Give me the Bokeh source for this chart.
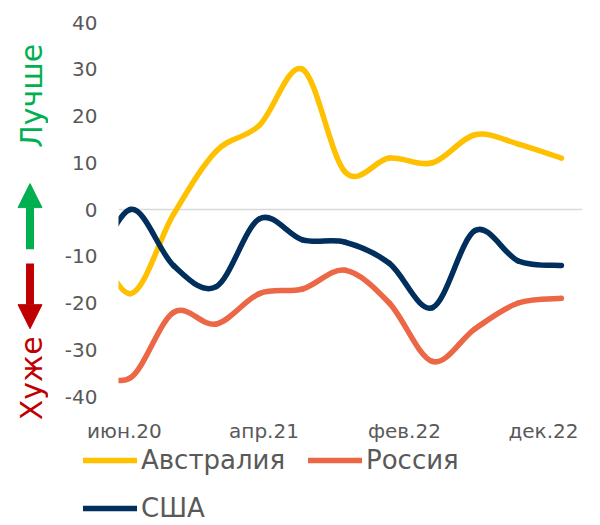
import pandas as pd
from bokeh.plotting import figure
from bokeh.models import (Range1d, FixedTicker, Legend, LegendItem, Arrow,
                          NormalHead, Label, ColumnDataSource)
from bokeh.layouts import row, column
from bokeh.embed import file_html
from bokeh.resources import INLINE

# ---------------- data ----------------
dates = ["2020-03-12", "2020-06-14", "2020-09-16", "2020-12-18", "2021-03-22",
         "2021-06-24", "2021-09-25", "2021-12-30", "2022-04-03", "2022-07-05",
         "2022-10-07", "2023-01-09"]
australia = [-3, -18, -1, 12.5, 18, 30, 8, 11, 10, 16, 14, 11]
russia = [-34, -36, -22, -24.5, -18, -17, -13, -20, -32.5, -25.5, -20, -19]
usa = [-16, 0, -12, -16.5, -2, -6.5, -7, -11.5, -21, -4.5, -11, -12]

series_names = ["Австралия", "Россия", "США"]
series_colors = ["#FFC000", "#EC6746", "#002F5E"]

x_tick_dates = ["2020-06-01", "2021-04-01", "2022-02-01", "2022-12-01"]
x_tick_labels = ["июн.20", "апр.21", "фев.22", "дек.22"]
x_window = ["2020-05-19", "2023-02-24"]
y_ticks = [-40, -30, -20, -10, 0, 10, 20, 30, 40]

better_label = "Лучше"
worse_label = "Хуже"

FONT = "DejaVu Sans"
GREY = "#595959"

W, H = 600, 525
CHART_H = 445          # page y 0..445
LEG_H = H - CHART_H    # page y 445..525
LEFT_W = 48
TOP, BOTTOM = 22, 45   # plot frame spans page y 22..400
FRAME_LEFT, FRAME_RIGHT = 118, 582


def ms(s):
    return int(pd.Timestamp(s).value // 10**6)


def smooth_source(xs, ys):
    """Excel-like smoothed line: cubic Bezier segments through the points."""
    n = len(xs)
    d = {k: [] for k in ("x0", "y0", "x1", "y1", "cx0", "cy0", "cx1", "cy1")}
    for i in range(n - 1):
        a = max(i - 1, 0)
        b = min(i + 2, n - 1)
        d["x0"].append(xs[i]); d["y0"].append(ys[i])
        d["x1"].append(xs[i + 1]); d["y1"].append(ys[i + 1])
        d["cx0"].append(xs[i] + (xs[i + 1] - xs[a]) / 6)
        d["cy0"].append(ys[i] + (ys[i + 1] - ys[a]) / 6)
        d["cx1"].append(xs[i + 1] - (xs[b] - xs[i]) / 6)
        d["cy1"].append(ys[i + 1] - (ys[b] - ys[i]) / 6)
    return ColumnDataSource(d)


xs = [ms(d) for d in dates]
series_values = [australia, russia, usa]
ymin, ymax = y_ticks[0], y_ticks[-1]
yr = Range1d(ymin, ymax)

# ---------------- main chart ----------------
p = figure(width=W - LEFT_W, height=CHART_H, x_axis_type="datetime",
           x_range=Range1d(ms(x_window[0]), ms(x_window[1])), y_range=yr,
           output_backend="svg", toolbar_location=None,
           min_border_left=FRAME_LEFT - LEFT_W, min_border_right=W - FRAME_RIGHT,
           min_border_top=TOP, min_border_bottom=BOTTOM)
p.outline_line_color = None
p.background_fill_color = "white"

p.xgrid.visible = False
p.ygrid.ticker = FixedTicker(ticks=[0])
p.ygrid.grid_line_color = "#D9D9D9"
p.ygrid.grid_line_width = 1.5

p.yaxis.ticker = FixedTicker(ticks=y_ticks)
p.yaxis.major_label_overrides = {t: str(t) for t in y_ticks}
p.xaxis.ticker = FixedTicker(ticks=[ms(d) for d in x_tick_dates])
p.xaxis.major_label_overrides = {ms(d): lab for d, lab in zip(x_tick_dates, x_tick_labels)}
for ax in (p.xaxis, p.yaxis):
    ax.axis_line_color = None
    ax.major_tick_line_color = None
    ax.minor_tick_line_color = None
    ax.major_tick_out = 0
    ax.major_label_text_font = FONT
    ax.major_label_text_font_size = "20px"
    ax.major_label_text_color = GREY
p.yaxis.major_label_standoff = 21
p.xaxis.major_label_standoff = 22

for vals, color in zip(series_values, series_colors):
    src = smooth_source(xs, vals)
    p.bezier(x0="x0", y0="y0", x1="x1", y1="y1", cx0="cx0", cy0="cy0",
             cx1="cx1", cy1="cy1", source=src, line_color=color,
             line_width=5.5, line_cap="round")

# ---------------- legend strip (below the chart) ----------------
pg = figure(width=W - LEFT_W, height=LEG_H, x_range=Range1d(0, 1), y_range=Range1d(0, 1),
            x_axis_location=None, y_axis_location=None, title=None,
            output_backend="svg", toolbar_location=None,
            min_border_left=0, min_border_right=0,
            min_border_top=0, min_border_bottom=0)
pg.outline_line_color = None
pg.grid.visible = False
# legend swatches: the same series, lying outside this strip's visible window
swatches = [pg.line(x=xs, y=vals, line_color=c, line_width=5.5, line_cap="round")
            for vals, c in zip(series_values, series_colors)]
items = [LegendItem(label=n, renderers=[r]) for n, r in zip(series_names, swatches)]
legend_style = dict(orientation="horizontal", label_text_font=FONT,
                    label_text_font_size="26px", label_text_color=GREY,
                    glyph_width=54, glyph_height=26, label_height=26,
                    label_standoff=4, spacing=7, padding=0, margin=0,
                    border_line_color=None, background_fill_alpha=0)
leg1 = Legend(items=items[:2], location=(83 - LEFT_W, 50), label_width=160, **legend_style)
leg2 = Legend(items=items[2:], location=(83 - LEFT_W, 2), **legend_style)
pg.add_layout(leg1)
pg.add_layout(leg2)

# ---------------- left annotation strip ----------------
px_per_unit = (CHART_H - TOP - BOTTOM) / (ymax - ymin)
left_yr = Range1d(ymin - (H - CHART_H + BOTTOM) / px_per_unit, ymax + TOP / px_per_unit)
pl = figure(width=LEFT_W, height=H, x_range=Range1d(0, LEFT_W), y_range=left_yr,
            x_axis_location=None, y_axis_location=None, title=None,
            output_backend="svg", toolbar_location=None,
            min_border_left=0, min_border_right=0,
            min_border_top=0, min_border_bottom=0)
pl.outline_line_color = None
pl.grid.visible = False

GREEN = "#00B050"
RED = "#C00000"
pl.add_layout(Arrow(end=NormalHead(size=24, fill_color=GREEN, line_color=GREEN, line_width=1),
                    x_start=29.5, y_start=-8, x_end=29.5, y_end=5.9,
                    line_color=GREEN, line_width=8))
pl.add_layout(Arrow(end=NormalHead(size=24, fill_color=RED, line_color=RED, line_width=1),
                    x_start=29.5, y_start=-11, x_end=29.5, y_end=-24.8,
                    line_color=RED, line_width=8))
pl.add_layout(Label(x=30.5, y=24.5, text=better_label, angle=90, angle_units="deg",
                    text_align="center", text_baseline="middle",
                    text_font=FONT, text_font_size="30px", text_color=GREEN))
pl.add_layout(Label(x=30.5, y=-35.3, text=worse_label, angle=90, angle_units="deg",
                    text_align="center", text_baseline="middle",
                    text_font=FONT, text_font_size="30px", text_color=RED))

layout = row(pl, column(p, row(pg)))
open("out.html", "w").write(file_html(layout, INLINE))
